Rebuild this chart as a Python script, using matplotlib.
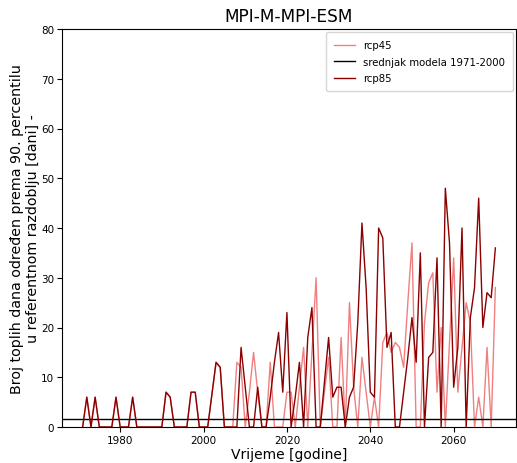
import matplotlib
matplotlib.use("Agg")
import matplotlib.pyplot as plt
import numpy as np

# godine 1971-2070
years = np.arange(1971, 2071)

# povijesno razdoblje (zajedničko za oba scenarija), 1971-2005
historical = [0, 6, 0, 6, 0, 0, 0, 0, 6, 0,
              0, 0, 6, 0, 0, 0, 0, 0, 0, 0,
              7, 6, 0, 0, 0, 0, 7, 7, 0, 0,
              0, 6.5, 13, 12, 0]

# 2006-2070
rcp45_future = [0, 0, 13, 12, 0, 7, 15, 7, 0, 0,
                13, 0, 0, 0, 7, 7, 0, 8, 16, 0,
                15, 30, 0, 7, 14, 0, 0, 18, 0, 25,
                8, 0, 14, 7, 0, 6, 0, 17, 19, 15,
                17, 16, 12, 25, 37, 0, 0, 21, 29, 31,
                7, 20, 0, 17, 34, 7, 16, 25, 21, 0,
                6, 0, 16, 0, 28]

rcp85_future = [0, 0, 0, 16, 8, 0, 0, 8, 0, 0,
                6, 13, 19, 7, 23, 0, 6, 13, 0, 18,
                24, 0, 0, 9, 18, 6, 8, 8, 0, 6,
                8, 21, 41, 28, 7, 6, 40, 38, 16, 19,
                0, 0, 7, 14, 22, 13, 35, 0, 14, 15,
                34, 0, 48, 37, 8, 16, 40, 0, 22, 28,
                46, 20, 27, 26, 36]

rcp45 = historical + rcp45_future
rcp85 = historical + rcp85_future
model_mean = 1.7

fig = plt.figure(figsize=(5.17, 4.64), dpi=100)
ax = fig.add_axes([62 / 517, 36 / 464, 454 / 517, 398 / 464])

ax.plot(years, rcp45, color="#f08080", lw=1.0, label="rcp45")
ax.axhline(model_mean, color="black", lw=1.0, label="srednjak modela 1971-2000")
ax.plot(years, rcp85, color="#8b0000", lw=1.0, label="rcp85")

ax.set_ylim(0, 80)
ax.set_yticks(range(0, 81, 10))
ax.set_xticks(range(1980, 2061, 20))
ax.tick_params(labelsize=7.5, pad=2)

ax.set_title("MPI-M-MPI-ESM", fontsize=12.2)
ax.set_xlabel("Vrijeme [godine]", fontsize=10, labelpad=2)
ax.set_ylabel("Broj toplih dana određen prema 90. percentilu\nu referentnom razdoblju [dani] -",
              fontsize=10.3, labelpad=1)
ax.legend(loc="upper right", fontsize=7.3, borderpad=0.8, labelspacing=0.65,
          handlelength=2.0, borderaxespad=0.3)

fig.savefig("out.png", dpi=100)
